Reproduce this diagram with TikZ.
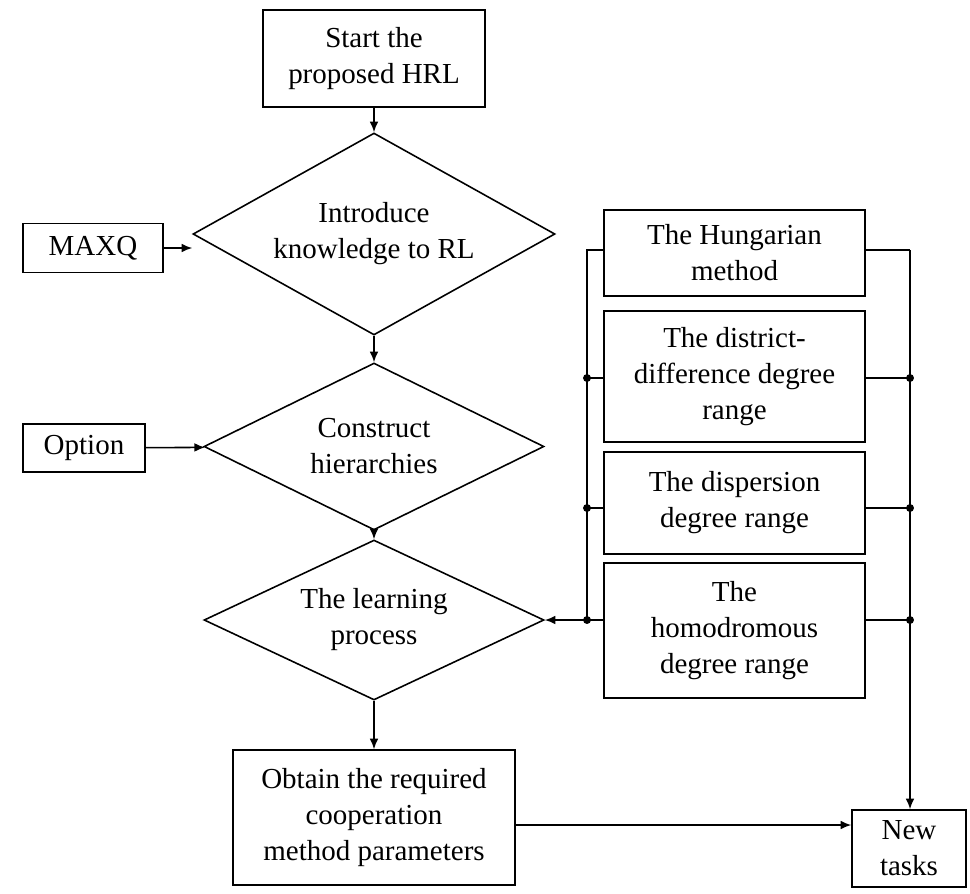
\documentclass[tikz,border=0pt]{standalone}
\usepackage{fontspec}
\setmainfont{Liberation Serif}
\usetikzlibrary{shapes.geometric,arrows.meta}
\begin{document}
\begin{tikzpicture}[x=0.02cm,y=-0.02cm,
 box/.style={draw,line width=0.9pt,align=center,inner sep=0pt,font=\fontsize{16.5}{20.5}\selectfont},
 dia/.style={draw,line width=0.9pt,diamond,align=center,inner sep=0pt,font=\fontsize{16.5}{20.5}\selectfont},
 arr/.style={line width=0.9pt,-{Latex[length=6pt,width=5pt]}},
 ln/.style={line width=0.9pt},
 dot/.style={circle,fill,inner sep=1.6pt}]
\useasboundingbox (0,0) rectangle (970,893);
\node[box,minimum width=222*0.02cm,minimum height=97*0.02cm] (start) at (374,58.5) {Start the\\proposed HRL};
\node[dia,shape aspect=1.79,minimum width=362*0.02cm,minimum height=202*0.02cm] (d1) at (374,234) {Introduce\\knowledge to RL};
\node[box,minimum width=140*0.02cm,minimum height=49*0.02cm] (maxq) at (93,248) {MAXQ};
\node[dia,shape aspect=2.04,minimum width=340*0.02cm,minimum height=167*0.02cm] (d2) at (374,446.5) {Construct\\hierarchies};
\node[box,minimum width=122*0.02cm,minimum height=48*0.02cm] (opt) at (84,448) {Option};
\node[dia,shape aspect=2.12,minimum width=340*0.02cm,minimum height=160*0.02cm] (d3) at (374,620) {The learning\\process};
\node[box,minimum width=282*0.02cm,minimum height=135*0.02cm] (obt) at (374,817.5) {Obtain the required\\cooperation\\method parameters};
\node[box,minimum width=261*0.02cm,minimum height=86*0.02cm] (h1) at (734.5,253) {The Hungarian\\method};
\node[box,minimum width=261*0.02cm,minimum height=131*0.02cm] (h2) at (734.5,376.5) {The district-\\difference degree\\range};
\node[box,minimum width=261*0.02cm,minimum height=102*0.02cm] (h3) at (734.5,503) {The dispersion\\degree range};
\node[box,minimum width=261*0.02cm,minimum height=135*0.02cm] (h4) at (734.5,630.5) {The\\homodromous\\degree range};
\node[box,minimum width=114*0.02cm,minimum height=77*0.02cm] (nt) at (909,848.5) {New\\tasks};
\draw[arr] (start) -- (d1);
\draw[arr] (d1) -- (d2);
\draw[arr] (d2) -- (d3);
\draw[arr] (d3) -- (obt);
\draw[arr] (maxq) -- (d1.west|-maxq);
\draw[arr] (opt) -- (d2);
\coordinate (lt) at (587,250);
\coordinate (lb) at (587,620);
\coordinate (rt) at (910,250);
\draw[ln] (h1.west|-lt) -- (lt) -- (lb);
\draw[ln] (h1.east|-rt) -- (rt);
\draw[arr] (rt) -- (nt.north-|rt);
\draw[arr] (lb) -- (d3.east);
\foreach \n/\y in {h2/378,h3/508,h4/620}{
 \node[dot] at (587,\y) {};
 \node[dot] at (910,\y) {};
 \draw[ln] (587,\y) -- (\n.west|-0,\y);
 \draw[ln] (\n.east|-0,\y) -- (910,\y);
}
\draw[arr] (obt.east|-0,825) -- (nt.west|-0,825);
\end{tikzpicture}
\end{document}
